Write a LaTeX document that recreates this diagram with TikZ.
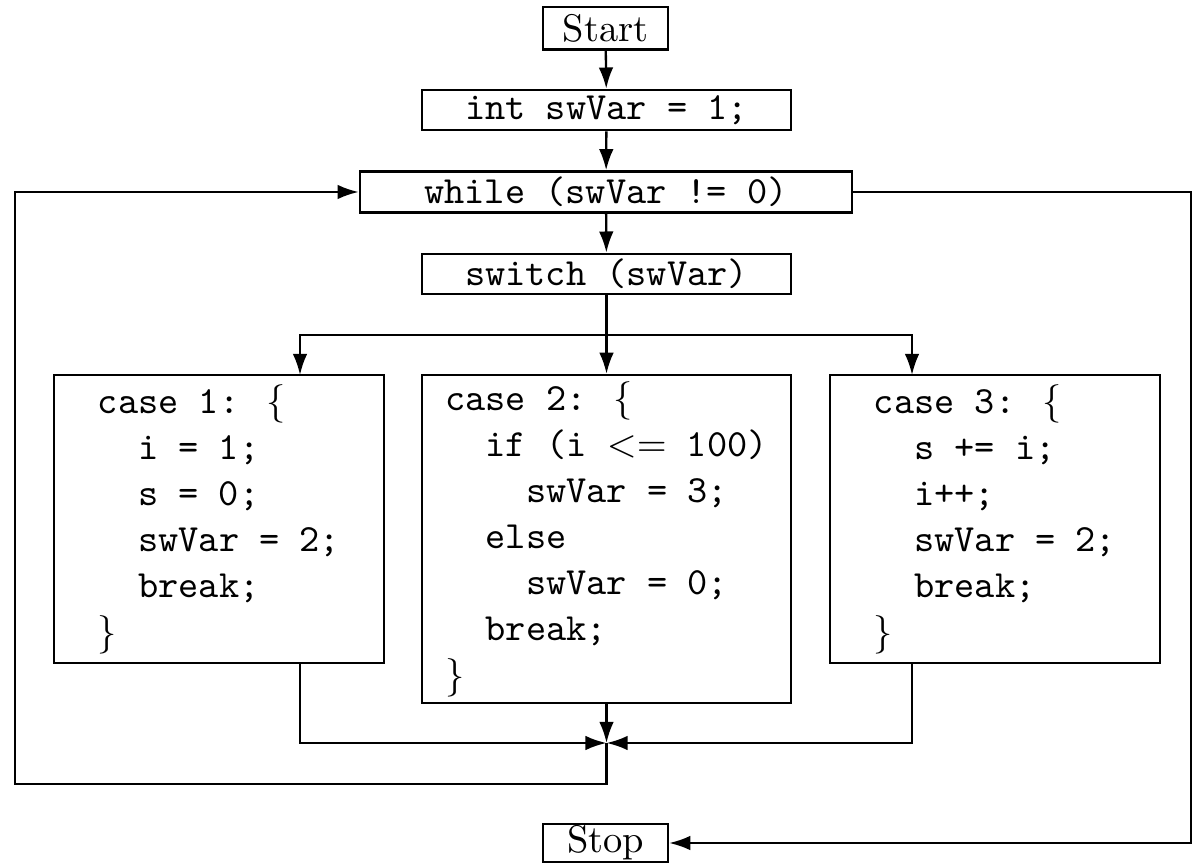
\documentclass[tikz,border=0pt]{standalone}
\usetikzlibrary{arrows.meta}
\newcommand{\ind}{\phantom{xx}}
\tikzset{
  box/.style={draw,line width=0.6pt,inner sep=0pt},
  casebox/.style={box,align=left,font=\ttfamily},
  every path/.style={line width=0.6pt},
  >={Latex[length=5.5pt,width=3.8pt]}
}

\begin{document}
\begin{tikzpicture}[x=0.26pt,y=-0.26pt]
   \useasboundingbox (0,0) rectangle (1194,866);

   \node[box,minimum width=32.4pt,minimum height=11pt] (start) at (605.5,28.5) {Start};
   \node[box,minimum width=96pt,minimum height=10.5pt,font=\ttfamily] (init) at (606.5,110) {int swVar = 1;};
   \node[box,minimum width=128pt,minimum height=10.7pt,font=\ttfamily] (while) at (606,192) {while (swVar != 0)};
   \node[box,minimum width=96pt,minimum height=10.5pt,font=\ttfamily] (switch) at (606.5,274) {switch (swVar)};

   \node[casebox,minimum width=85.8pt,minimum height=74.9pt] (c1) at (219,519) {%
     case 1: $\{$\\ \ind i = 1;\\ \ind s = 0;\\ \ind swVar = 2;\\ \ind break;\\ $\}$};
   \node[casebox,minimum width=96pt,minimum height=85.3pt] (c2) at (606.5,539) {%
     case 2: $\{$\\ \ind if (i $<=$ 100)\\ \ind\ind swVar = 3;\\ \ind else\\ \ind\ind swVar = 0;\\ \ind break;\\ $\}$};
   \node[casebox,minimum width=85.8pt,minimum height=74.9pt] (c3) at (995,519) {%
     case 3: $\{$\\ \ind s += i;\\ \ind i++;\\ \ind swVar = 2;\\ \ind break;\\ $\}$};

   \node[box,minimum width=32.5pt,minimum height=10pt] (stop) at (605.5,843) {Stop};

   \coordinate (split) at (606.5,335);
   \coordinate (in1) at (300,375);
   \coordinate (in3) at (912,375);
   \coordinate (merge) at (606.5,743);
   \coordinate (lft) at (15,784);
   \coordinate (rgt) at (1191,192);

   \draw[->] (start) -- (init);
   \draw[->] (init) -- (while);
   \draw[->] (while) -- (switch);
   \draw (switch) -- (split);
   \draw[->] (split) -| (in1);
   \draw[->] (split) -- (c2);
   \draw[->] (split) -| (in3);

   \draw[->] (in1 |- c1.south) |- (merge);
   \draw[->] (in3 |- c3.south) |- (merge);
   \draw[->] (c2) -- (merge);

   \draw[->] (merge) |- (lft) |- (while.west);
   \draw[->] (while.east) -- (rgt) |- (stop.east);
  \end{tikzpicture}
\end{document}
